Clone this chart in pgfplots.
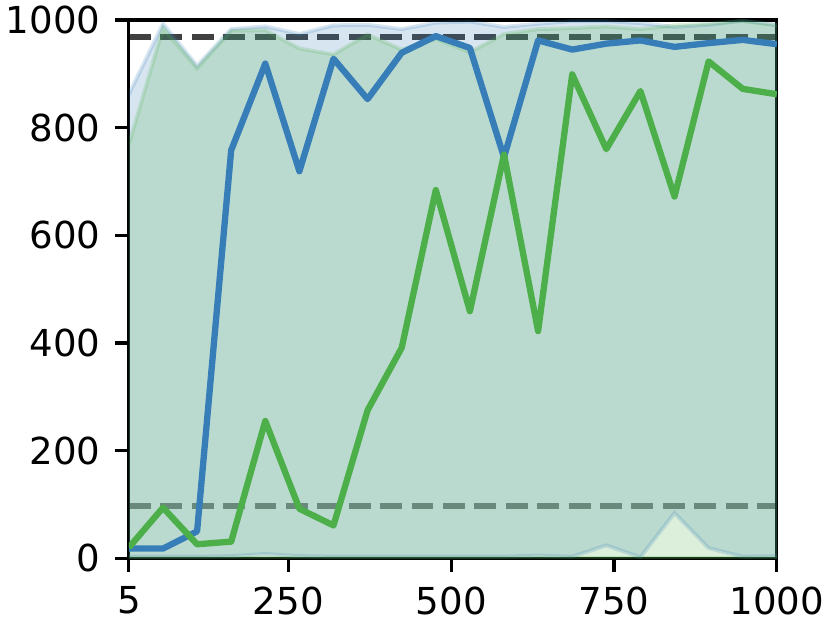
\documentclass[border=0pt]{standalone}
\usepackage{fontspec}
\setmainfont{DejaVu Sans}
\usepackage{pgfplots}
\usepackage{pgfplotstable}
\pgfplotsset{compat=1.18}
\usepgfplotslibrary{fillbetween}
\definecolor{cblue}{HTML}{377EB8}
\definecolor{cgreen}{HTML}{4DAF4A}

\pgfplotstableread{
x      bm   bl  bu   gm   gl  gu
5      18   3   862  20   0   769
57.37  18   3   993  94   0   985
109.74 50   3   915  26   0   910
162.11 758  4   983  31   0   980
214.47 919  8   988  255  0   981
266.84 719  4   974  92   0   947
319.21 928  3   990  61   0   936
371.58 853  3   991  275  0   973
423.95 939  3   983  391  0   945
476.32 970  3   995  684  0   965
528.68 948  3   997  459  0   940
581.05 745  3   987  750  0   974
633.42 962  5   993  422  0   983
685.79 945  3   998  899  0   985
738.16 956  24  998  760  0   988
790.53 962  2   994  868  0   983
842.89 950  84  987  672  0   990
895.26 957  19  991  923  0   993
947.63 963  3   999  872  0   998
1000   955  4   991  862  0   990
}\data

\begin{document}
\begin{tikzpicture}
\begin{axis}[
  set layers,
  scale only axis,
  width=164pt, height=136.25pt,
  xmin=5, xmax=1000, ymin=0, ymax=1000,
  xtick={5,250,500,750,1000},
  xticklabels={5,250,500,750,1000},
  ytick={0,200,400,600,800,1000},
  yticklabels={0,200,400,600,800,1000},
  tick align=outside,
  xtick pos=left, ytick pos=left,
  major tick length=3.5pt,
  tick style={black, line width=0.8pt},
  axis line style={black, line width=0.8pt},
  tick label style={font=\fontsize{9.4}{11}\selectfont, text=black},
  xticklabel style={inner sep=1.5pt, yshift=-2pt},
  yticklabel style={inner sep=1.5pt, xshift=-2pt},
  clip=true,
]
% reference dashed lines (under the fills)
\addplot[on layer=axis background, black, opacity=0.75, line width=1.5pt,
  dash pattern=on 5.55pt off 2.4pt] coordinates {(5,969) (1000,969)};
\addplot[on layer=axis background, black, opacity=0.5, line width=1.5pt,
  dash pattern=on 5.55pt off 2.4pt] coordinates {(5,97) (1000,97)};

% band edges
\addplot[name path=bu, cblue, draw opacity=0.2, line width=1pt] table[x=x,y=bu]{\data};
\addplot[name path=bl, cblue, draw opacity=0.2, line width=1pt] table[x=x,y=bl]{\data};
\addplot[name path=gu, cgreen, draw opacity=0.2, line width=1pt] table[x=x,y=gu]{\data};
\addplot[name path=gl, cgreen, draw opacity=0.2, line width=1pt] table[x=x,y=gl]{\data};
\addplot[fill=cblue, fill opacity=0.2, draw=none] fill between[of=bu and bl];
\addplot[fill=cgreen, fill opacity=0.2, draw=none] fill between[of=gu and gl];

% mean lines
\addplot[cblue, line width=1.6pt, line join=round] table[x=x,y=bm]{\data};
\addplot[cgreen, line width=1.6pt, line join=round] table[x=x,y=gm]{\data};
\end{axis}
\end{tikzpicture}
\end{document}
